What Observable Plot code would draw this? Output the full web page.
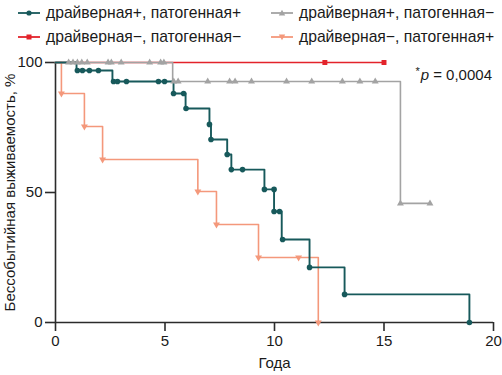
<!DOCTYPE html>
<html><head><meta charset="utf-8">
<script src="https://cdn.jsdelivr.net/npm/d3@7"></script>
<script src="https://cdn.jsdelivr.net/npm/@observablehq/plot@0.6"></script>
<style>
body{margin:0;background:#fff;font-family:"Liberation Sans",Arial,Helvetica,sans-serif;}
#wrap{position:relative;width:502px;height:375px;background:#fff;overflow:hidden;}
.leg{position:absolute;display:flex;align-items:center;font-size:15.7px;color:#1a1a1a;white-space:nowrap;line-height:1;}
.leg svg{margin-right:5px;display:block}
#pval{position:absolute;right:10px;top:65px;font-size:15px;color:#1a1a1a;white-space:nowrap;}
#pval sup{font-size:11px;vertical-align:5px;margin-right:1px;}
#chart{position:absolute;left:0;top:0;}
</style></head><body>
<div id="wrap"><div id="chart"></div><div id="legend"></div><div id="pval"></div></div>
<script>
// ---- data ----
const seriesNames = ["драйверная+, патогенная+", "драйверная+, патогенная−", "драйверная−, патогенная−", "драйверная−, патогенная+"];
const seriesColors = ["#17595b", "#a3a3a3", "#e3232b", "#f4987b"];
const xTicks = [0, 5, 10, 15, 20];
const yTicks = [0, 50, 100];
const xLabel = "Года";
const yLabel = "Бессобытийная выживаемость, %";
const pText = "0,0004";

// драйверная+, патогенная+ (step curve and markers)
const tealTime = [0, 0.96, 2.6, 5.39, 5.94, 7.03, 7.1, 7.84, 8.03, 9.54, 9.98, 10.33, 11.6, 13.2, 18.9];
const tealSurv = [100, 96.9, 92.7, 88.1, 82.3, 76.2, 70.4, 64.6, 58.8, 51.2, 42.7, 31.9, 21.2, 10.8, 0];
const tealMarkT = [1.0, 1.23, 1.55, 1.96, 2.65, 2.83, 3.24, 4.7, 4.98, 5.39, 5.85, 5.96, 7.03, 7.1, 7.84, 8.03, 8.54, 9.54, 9.98, 9.98, 10.23, 10.37, 11.6, 13.2, 18.9];
const tealMarkS = [96.9, 96.9, 96.9, 96.9, 92.7, 92.7, 92.7, 92.7, 92.7, 88.1, 88.1, 82.3, 76.2, 70.4, 64.6, 58.8, 58.8, 51.2, 51.2, 42.7, 42.7, 31.9, 21.2, 10.8, 0];

// драйверная+, патогенная−
const grayTime = [0, 5.35, 15.75, 17.1];
const graySurv = [100, 92.7, 45.8, 45.8];
const grayMarkT = [0.6, 0.8, 1.0, 1.2, 1.45, 2.4, 2.55, 3.0, 4.3, 4.8, 4.95, 5.4, 5.6, 6.95, 7.95, 8.2, 8.95, 10.55, 11.7, 13.1, 13.9, 14.6, 15.75, 17.1];
const grayMarkS = [100, 100, 100, 100, 100, 100, 100, 100, 100, 100, 100, 92.7, 92.7, 92.7, 92.7, 92.7, 92.7, 92.7, 92.7, 92.7, 92.7, 92.7, 45.8, 45.8];

// драйверная−, патогенная−
const redTime = [0, 15.0];
const redSurv = [100, 100];
const redMarkT = [12.3, 15.0];
const redMarkS = [100, 100];

// драйверная−, патогенная+
const salmonTime = [0, 0.27, 1.32, 2.15, 6.5, 7.35, 9.27, 12.0];
const salmonSurv = [100, 88.1, 75.4, 62.7, 50.4, 37.7, 25.0, 0];
const salmonMarkT = [0.27, 1.32, 2.15, 6.5, 7.35, 9.27, 11.1, 12.0];
const salmonMarkS = [88.1, 75.4, 62.7, 50.4, 37.7, 25.0, 25.0, 0];

// ---- build tables ----
const toRows = (ts, ss) => ts.map((t, i) => ({t, s: ss[i]}));
const teal = toRows(tealTime, tealSurv), tealM = toRows(tealMarkT, tealMarkS);
const gray = toRows(grayTime, graySurv), grayM = toRows(grayMarkT, grayMarkS);
const red = toRows(redTime, redSurv), redM = toRows(redMarkT, redMarkS);
const salmon = toRows(salmonTime, salmonSurv), salmonM = toRows(salmonMarkT, salmonMarkS);

const axisColor = "#2b2b2b";
const plot = Plot.plot({
  width: 502, height: 375,
  marginTop: 62, marginBottom: 53, marginLeft: 55, marginRight: 9,
  style: {fontFamily: "'Liberation Sans', Arial, Helvetica, sans-serif", fontSize: "15px", color: "#1a1a1a", background: "transparent", overflow: "visible"},
  x: {domain: [0, 20]},
  y: {domain: [0, 100]},
  marks: [
    Plot.axisX({ticks: xTicks, tickSize: 9, tickPadding: 4, strokeWidth: 1.6, stroke: axisColor, label: xLabel, labelAnchor: "center", labelArrow: "none", labelOffset: 45}),
    Plot.axisY({ticks: yTicks, tickSize: 10, tickPadding: 3, strokeWidth: 1.6, stroke: axisColor, label: yLabel, labelAnchor: "center", labelArrow: "none", labelOffset: 51}),
    Plot.ruleY([0], {stroke: axisColor, strokeWidth: 1.6}),
    Plot.ruleX([0], {stroke: axisColor, strokeWidth: 1.6}),
    Plot.line(red, {x: "t", y: "s", curve: "step-after", stroke: seriesColors[2], strokeWidth: 1.6}),
    Plot.line(salmon, {x: "t", y: "s", curve: "step-after", stroke: seriesColors[3], strokeWidth: 1.6}),
    Plot.line(gray, {x: "t", y: "s", curve: "step-after", stroke: seriesColors[1], strokeWidth: 1.6}),
    Plot.line(teal, {x: "t", y: "s", curve: "step-after", stroke: seriesColors[0], strokeWidth: 1.9}),
    Plot.dot(redM, {x: "t", y: "s", symbol: "square", r: 2.8, fill: seriesColors[2]}),
    Plot.dot(salmonM, {x: "t", y: "s", symbol: "triangle2", rotate: 180, r: 3.3, fill: seriesColors[3]}),
    Plot.dot(grayM, {x: "t", y: "s", symbol: "triangle2", r: 3.3, fill: seriesColors[1]}),
    Plot.dot(tealM, {x: "t", y: "s", symbol: "circle", r: 2.8, fill: seriesColors[0]})
  ]
});
document.getElementById("chart").appendChild(plot);

// ---- legend ----
const legendPos = [{left: 18, top: 5}, {left: 271, top: 5}, {left: 18, top: 29}, {left: 271, top: 29}];
const legendShape = ["circle", "triangle", "square", "tri-down"];
const legend = document.getElementById("legend");
seriesNames.forEach((name, i) => {
  const d = document.createElement("div");
  d.className = "leg";
  d.style.left = legendPos[i].left + "px";
  d.style.top = legendPos[i].top + "px";
  const c = seriesColors[i];
  let m = "";
  if (legendShape[i] === "circle") m = `<circle cx="11" cy="8" r="2.6" fill="${c}"/>`;
  if (legendShape[i] === "square") m = `<rect x="8.5" y="5.5" width="5" height="5" fill="${c}"/>`;
  if (legendShape[i] === "triangle") m = `<path d="M11,4.8L14.2,10.5L7.8,10.5Z" fill="${c}"/>`;
  if (legendShape[i] === "tri-down") m = `<path d="M11,11.2L14.2,5.5L7.8,5.5Z" fill="${c}"/>`;
  d.innerHTML = `<svg width="23" height="16"><line x1="0" y1="8" x2="22" y2="8" stroke="${c}" stroke-width="1.8"/>${m}</svg><span>${name}</span>`;
  legend.appendChild(d);
});
document.getElementById("pval").innerHTML = `<sup>*</sup><i>p</i> = ${pText}`;
</script>
</body></html>
